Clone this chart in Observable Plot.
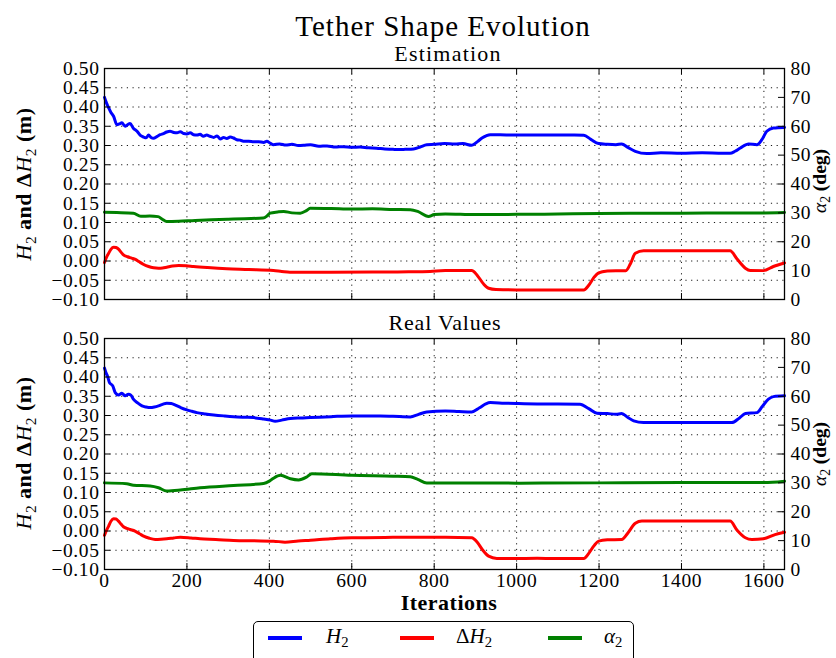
<!DOCTYPE html>
<html><head><meta charset="utf-8">
<script src="https://cdn.jsdelivr.net/npm/d3@7"></script>
<script src="https://cdn.jsdelivr.net/npm/@observablehq/plot@0.6"></script>
<style>
body{margin:0;background:#fff;}
#c{position:relative;width:836px;height:658px;overflow:hidden;font-family:"Liberation Serif",serif;color:#000;}
.t{position:absolute;white-space:nowrap;line-height:1;font-family:"Liberation Serif",serif;}
.s{font-size:0.7em;position:relative;top:0.3em;font-style:normal;font-weight:normal;}
.m{font-style:italic;font-weight:normal;}
.plot{position:absolute;left:0;}
.plot text{font-family:"Liberation Serif",serif;}
.lg{position:absolute;height:3.5px;}
</style></head><body><div id="c"></div>
<script>
// ---- data (iteration, value) ----
const xTicks = [0, 200, 400, 600, 800, 1000, 1200, 1400, 1600];
const yTicks = [-0.10, -0.05, 0.00, 0.05, 0.10, 0.15, 0.20, 0.25, 0.30, 0.35, 0.40, 0.45, 0.50];
const degTicks = [0, 10, 20, 30, 40, 50, 60, 70, 80];

const estH2 = [[0,0.425],[5,0.41],[10,0.398],[16,0.385],[22,0.376],[30,0.354],[36,0.356],[42,0.359],[50,0.350],[56,0.354],[62,0.357],[70,0.345],[79,0.337],[87,0.326],[95,0.322],[101,0.320],[107,0.327],[113,0.321],[119,0.319],[127,0.323],[135,0.328],[143,0.331],[151,0.335],[159,0.337],[168,0.334],[176,0.333],[184,0.336],[192,0.331],[200,0.330],[208,0.333],[216,0.328],[224,0.327],[232,0.329],[240,0.324],[248,0.327],[256,0.324],[265,0.321],[273,0.325],[281,0.317],[289,0.321],[297,0.318],[305,0.322],[313,0.3195],[321,0.315],[329,0.314],[337,0.311],[350,0.311],[362,0.310],[374,0.310],[386,0.308],[394,0.311],[402,0.306],[410,0.302],[425,0.304],[440,0.301],[455,0.303],[470,0.300],[483,0.3005],[500,0.302],[520,0.298],[540,0.299],[560,0.296],[580,0.297],[600,0.2953],[620,0.296],[640,0.294],[660,0.293],[680,0.291],[700,0.290],[710,0.2893],[730,0.290],[750,0.291],[766,0.296],[782,0.302],[800,0.303],[825,0.305],[850,0.304],[870,0.305],[891,0.3005],[905,0.310],[916,0.3195],[926,0.325],[936,0.328],[960,0.328],[990,0.327],[1020,0.327],[1050,0.327],[1080,0.327],[1110,0.327],[1140,0.327],[1163,0.3265],[1180,0.316],[1199,0.305],[1220,0.303],[1241,0.302],[1255,0.304],[1270,0.295],[1288,0.285],[1316,0.279],[1350,0.281],[1400,0.280],[1450,0.281],[1500,0.280],[1518,0.280],[1530,0.285],[1543,0.2935],[1563,0.304],[1583,0.302],[1595,0.315],[1607,0.337],[1623,0.3455],[1650,0.347]];

const estDH2 = [[0,-0.004],[5,0.010],[10,0.020],[16,0.031],[22,0.036],[28,0.035],[34,0.031],[40,0.023],[46,0.016],[56,0.011],[66,0.0075],[75,0.004],[83,-0.0013],[95,-0.009],[107,-0.0143],[119,-0.0175],[131,-0.0187],[141,-0.018],[151,-0.016],[165,-0.013],[180,-0.0117],[198,-0.0125],[216,-0.0143],[250,-0.017],[297,-0.020],[350,-0.022],[410,-0.0247],[430,-0.027],[450,-0.029],[550,-0.029],[650,-0.0285],[750,-0.028],[790,-0.027],[827,-0.0247],[891,-0.0247],[905,-0.038],[920,-0.060],[932,-0.0707],[950,-0.074],[1000,-0.075],[1050,-0.075],[1100,-0.075],[1163,-0.075],[1175,-0.063],[1188,-0.042],[1199,-0.0307],[1220,-0.026],[1241,-0.025],[1265,-0.025],[1277,-0.005],[1288,0.0203],[1308,0.0265],[1400,0.0265],[1518,0.0265],[1535,0.005],[1555,-0.0187],[1567,-0.0247],[1599,-0.025],[1623,-0.0143],[1650,-0.005]];

const estA2 = [[0,30.2],[30,30.1],[70,29.9],[88,28.8],[110,28.9],[130,28.7],[140,27.8],[151,27.0],[180,27.1],[220,27.4],[260,27.6],[300,27.8],[340,28.0],[385,28.2],[395,29.0],[402,29.9],[420,30.3],[435,30.5],[455,30.0],[475,29.9],[490,30.8],[499,31.6],[550,31.5],[600,31.3],[650,31.4],[700,31.2],[742,31.1],[760,30.5],[786,28.75],[800,29.4],[827,29.6],[900,29.4],[1000,29.5],[1100,29.6],[1200,29.8],[1300,29.9],[1400,29.9],[1500,30.0],[1600,30.0],[1650,30.1]];

const realH2 = [[0,0.423],[4,0.41],[7,0.403],[12,0.3855],[20,0.377],[26,0.3595],[34,0.353],[42,0.358],[50,0.351],[58,0.3553],[64,0.353],[70,0.3423],[80,0.333],[91,0.325],[101,0.322],[111,0.3205],[121,0.322],[131,0.325],[141,0.329],[151,0.332],[162,0.331],[172,0.327],[186,0.320],[200,0.3145],[212,0.311],[224,0.3075],[245,0.304],[265,0.3015],[290,0.299],[313,0.297],[340,0.2955],[362,0.2945],[386,0.291],[403,0.288],[414,0.285],[430,0.288],[451,0.292],[475,0.2935],[499,0.2945],[550,0.297],[600,0.299],[669,0.299],[700,0.298],[742,0.2963],[762,0.303],[782,0.3093],[827,0.312],[860,0.3105],[891,0.3093],[910,0.320],[925,0.330],[936,0.3335],[970,0.332],[1000,0.331],[1050,0.330],[1100,0.330],[1154,0.3293],[1175,0.318],[1195,0.306],[1220,0.305],[1241,0.3033],[1255,0.305],[1270,0.295],[1284,0.286],[1308,0.2815],[1400,0.2815],[1522,0.2815],[1540,0.293],[1555,0.305],[1583,0.3075],[1597,0.325],[1611,0.3425],[1623,0.349],[1650,0.351]];

const realDH2 = [[0,-0.011],[5,0.002],[10,0.0127],[16,0.026],[22,0.0318],[28,0.031],[34,0.0257],[40,0.018],[46,0.011],[54,0.007],[62,0.004],[74,-0.0003],[85,-0.007],[95,-0.0133],[109,-0.019],[123,-0.022],[137,-0.0215],[151,-0.0203],[168,-0.018],[184,-0.016],[210,-0.018],[232,-0.0203],[270,-0.022],[313,-0.0245],[360,-0.0255],[410,-0.0263],[438,-0.0289],[470,-0.026],[500,-0.024],[548,-0.0203],[600,-0.0176],[700,-0.0165],[827,-0.016],[891,-0.0176],[905,-0.030],[918,-0.050],[932,-0.0653],[952,-0.0713],[1000,-0.0715],[1050,-0.071],[1100,-0.0715],[1163,-0.0713],[1175,-0.058],[1188,-0.038],[1199,-0.0263],[1220,-0.023],[1255,-0.022],[1270,-0.005],[1288,0.020],[1304,0.0257],[1400,0.0257],[1518,0.0257],[1535,0.002],[1555,-0.0176],[1571,-0.022],[1599,-0.0203],[1627,-0.0093],[1650,-0.0033]];

const realA2 = [[0,30.0],[54,29.7],[70,29.2],[111,28.9],[131,28.3],[151,27.2],[184,27.5],[232,28.3],[313,29.1],[386,29.8],[400,30.6],[410,31.6],[427,32.6],[451,31.4],[471,31.0],[490,32.0],[503,33.2],[600,32.6],[700,32.3],[742,32.1],[760,31.2],[782,30.0],[900,30.0],[1000,29.9],[1200,30.0],[1400,30.1],[1600,30.1],[1650,30.6]];

// ---- helpers ----
const c = document.getElementById("c");
const degToY = d => -0.1 + d / 80 * 0.6;   // right axis (deg) onto left scale (m)
const fmt = d3.format(".2f");
const FF = "'Liberation Serif', serif";

function addText(html, x, baseline, size, opts = {}) {
  const d = document.createElement("div");
  d.className = "t";
  d.innerHTML = html;
  d.style.fontSize = size + "px";
  d.style.left = x + "px";
  d.style.top = (baseline - 0.8375 * size) + "px";
  if (opts.center !== false) d.style.transform = "translateX(-50%)";
  if (opts.bold) d.style.fontWeight = "bold";
  if (opts.ls) d.style.letterSpacing = opts.ls + "px";
  c.appendChild(d);
}
function addRot(html, cx, cy, size, opts = {}) {
  const d = document.createElement("div");
  d.className = "t";
  d.innerHTML = html;
  d.style.fontSize = size + "px";
  d.style.left = cx + "px";
  d.style.top = cy + "px";
  d.style.transform = "translate(-50%,-50%) rotate(-90deg)";
  if (opts.bold) d.style.fontWeight = "bold";
  if (opts.ls) d.style.letterSpacing = opts.ls + "px";
  c.appendChild(d);
}

function panel(h2, dh2, a2, top, mt, mb, height, showX) {
  const W = 836 - 104 - 52, H = height - mt - mb;
  const grid = {stroke: "#000", strokeWidth: 1, strokeDasharray: "1.2,4.5", strokeOpacity: 0.9};
  const txt = {fontSize: 19.5, fontFamily: FF};
  const marks = [
    Plot.ruleY(yTicks, {y: d => d, ...grid}),
    Plot.ruleX(xTicks, {x: d => d, ...grid}),
    Plot.line(h2, {x: d => d[0], y: d => d[1], stroke: "#0000ff", strokeWidth: 3, curve: "monotone-x"}),
    Plot.line(dh2, {x: d => d[0], y: d => d[1], stroke: "#ff0000", strokeWidth: 3, curve: "monotone-x"}),
    Plot.line(a2, {x: d => d[0], y: d => degToY(d[1]), stroke: "#008000", strokeWidth: 3, curve: "monotone-x"}),
    Plot.ruleX(xTicks, {x: d => d, insetTop: H - 6, stroke: "#000"}),
    Plot.ruleX(xTicks, {x: d => d, insetBottom: H - 6, stroke: "#000"}),
    Plot.ruleY(yTicks, {y: d => d, insetRight: W - 6, stroke: "#000"}),
    Plot.ruleY(degTicks, {y: d => degToY(d), insetLeft: W - 6, stroke: "#000"}),
    Plot.frame({stroke: "#000", strokeWidth: 1.3}),
    Plot.text(yTicks, {y: d => d, frameAnchor: "left", text: d => fmt(d), textAnchor: "end", dx: -5, ...txt}),
    Plot.text(degTicks, {y: d => degToY(d), frameAnchor: "right", text: d => String(d), textAnchor: "start", dx: 6, ...txt})
  ];
  if (showX) marks.push(Plot.text(xTicks, {x: d => d, frameAnchor: "bottom", text: d => String(d), lineAnchor: "top", dy: 4, ...txt}));
  const svg = Plot.plot({
    width: 836, height, marginLeft: 104, marginRight: 52, marginTop: mt, marginBottom: mb,
    x: {domain: [0, 1650], axis: null},
    y: {domain: [-0.1, 0.5], axis: null},
    style: {fontFamily: FF, fontSize: "19.5px", background: "transparent", overflow: "visible", letterSpacing: "0.6px", color: "#000"},
    marks
  });
  svg.classList.add("plot");
  svg.style.top = top + "px";
  c.appendChild(svg);
}

panel(estH2, estDH2, estA2, 0, 68, 6, 305, false);
panel(realH2, realDH2, realA2, 300, 38, 31, 300, true);

// ---- texts ----
addText("Tether Shape Evolution", 443, 36, 29, {ls: 1});
addText("Estimation", 448, 61, 22, {ls: 1.2});
addText("Real Values", 445, 330, 22, {ls: 0.8});
addText("Iterations", 449, 610, 22, {bold: true, ls: 0.5});
const yl = '<span class="m">H</span><span class="s">2</span> and Δ<span class="m">H</span><span class="s">2</span> (m)';
addRot(yl, 23.5, 184, 22, {bold: true, ls: 0.5});
addRot(yl, 23.5, 453, 22, {bold: true, ls: 0.5});
const yr = '<span class="m">α</span><span class="s">2</span> (deg)';
addRot(yr, 820, 181, 19.5, {bold: true});
addRot(yr, 820, 454, 19.5, {bold: true});

// ---- legend ----
const box = document.createElement("div");
box.style.cssText = "position:absolute;left:253px;top:621px;width:379px;height:50px;border:1.5px solid #000;border-radius:5px;background:#fff;";
c.appendChild(box);
const legend = [["#0000ff", 268, 326, '<span class="m">H</span><span class="s">2</span>'],
                ["#ff0000", 400, 456, 'Δ<span class="m">H</span><span class="s">2</span>'],
                ["#008000", 548, 604, '<span class="m">α</span><span class="s">2</span>']];
for (const [col, lx, tx, html] of legend) {
  const l = document.createElement("div");
  l.className = "lg";
  l.style.left = lx + "px"; l.style.width = "34px"; l.style.top = "636px"; l.style.background = col;
  c.appendChild(l);
  addText(html, tx, 643.5, 21, {center: false});
}
</script></body></html>
